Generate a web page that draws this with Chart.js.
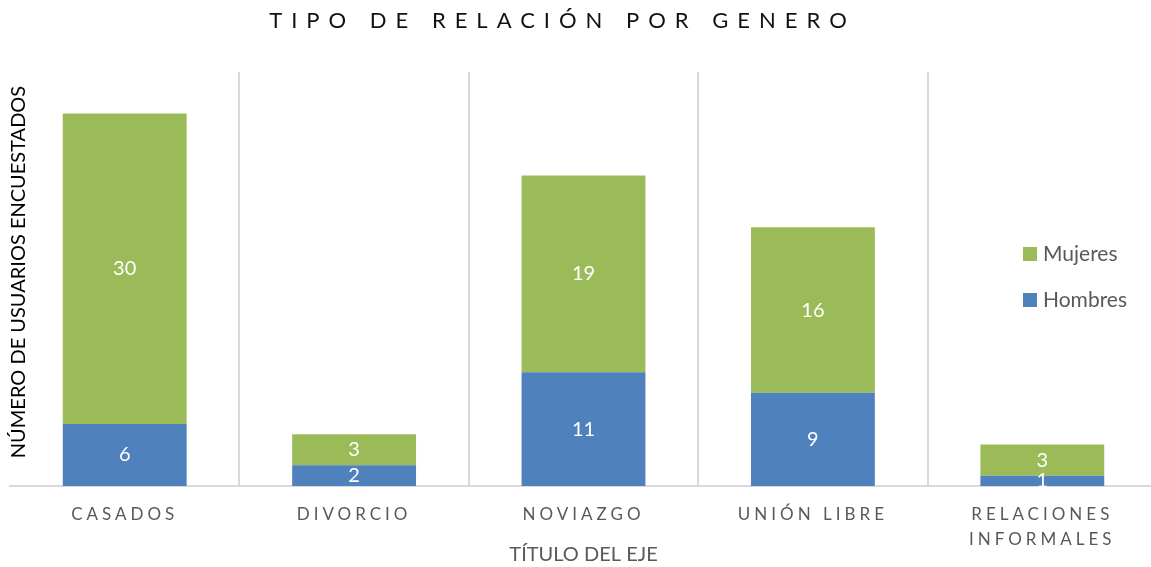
<!DOCTYPE html>
<html>
<head>
<meta charset="utf-8">
<script src="https://cdn.jsdelivr.net/npm/chart.js@4/dist/chart.umd.min.js"></script>
<style>
  html, body { margin: 0; padding: 0; background: #fff; overflow: hidden; }
  #wrap { width: 1160px; height: 567px; }
</style>
</head>
<body>
<div id="wrap"><canvas id="relChart" width="1160" height="567"></canvas></div>
<script>
// data
var categories = ['CASADOS', 'DIVORCIO', 'NOVIAZGO', 'UNIÓN LIBRE', ['RELACIONES', 'INFORMALES']];
var hombres = [6, 2, 11, 9, 1];
var mujeres = [30, 3, 19, 16, 3];
var chartTitle = 'TIPO DE RELACIÓN POR GENERO';
var xTitle = 'TÍTULO DEL EJE';
var yTitle = 'NÚMERO DE USUARIOS ENCUESTADOS';

var FONT = 'Lato, "Open Sans", sans-serif';

// letter spacing for tick labels, off again before bars/labels
var spacingPlugin = {
    id: 'spacing',
    beforeDraw: function(chart) {
        chart.ctx.letterSpacing = '4px';
    },
    beforeDatasetsDraw: function(chart) {
        chart.ctx.letterSpacing = '0px';
    }
};

// white value labels in the middle of each segment
var valueLabels = {
    id: 'valueLabels',
    afterDatasetsDraw: function(chart) {
        var ctx = chart.ctx;
        ctx.save();
        ctx.letterSpacing = '0px';
        ctx.font = '20px ' + FONT;
        ctx.fillStyle = '#ffffff';
        ctx.textAlign = 'center';
        ctx.textBaseline = 'middle';
        chart.data.datasets.forEach(function(ds, i) {
            chart.getDatasetMeta(i).data.forEach(function(bar, j) {
                var p = bar.getCenterPoint();
                ctx.fillText(ds.data[j], p.x, p.y);
            });
        });
        ctx.restore();
    }
};

// titles + legend placed inside the plot like the excel chart
var decorations = {
    id: 'decorations',
    afterDraw: function(chart) {
        var ctx = chart.ctx;
        var area = chart.chartArea;
        ctx.save();

        // main title
        ctx.letterSpacing = '9px';
        ctx.font = '22px ' + FONT;
        ctx.fillStyle = '#111111';
        ctx.textAlign = 'left';
        ctx.textBaseline = 'middle';
        var w = ctx.measureText(chartTitle).width - 9;
        ctx.fillText(chartTitle, 558 - w / 2, 21);

        // x axis title
        ctx.letterSpacing = '0px';
        ctx.font = '20px ' + FONT;
        ctx.fillStyle = '#595959';
        ctx.textAlign = 'center';
        ctx.fillText(xTitle, (area.left + area.right) / 2, 555);

        // y axis title
        ctx.save();
        ctx.translate(19, 272);
        ctx.rotate(-Math.PI / 2);
        ctx.fillStyle = '#000000';
        ctx.font = '20px ' + FONT;
        ctx.fillText(yTitle, 0, 0);
        ctx.restore();

        // legend, top to bottom: Mujeres, Hombres
        ctx.font = '21px ' + FONT;
        ctx.textAlign = 'left';
        var order = [1, 0];
        order.forEach(function(i, k) {
            var ds = chart.data.datasets[i];
            var y = 254 + k * 46;
            ctx.fillStyle = ds.backgroundColor;
            ctx.fillRect(1023, y - 7, 14, 14);
            ctx.fillStyle = '#595959';
            ctx.fillText(ds.label, 1043, y);
        });
        ctx.restore();
    }
};

var ctx = document.getElementById('relChart').getContext('2d');
var myChart = new Chart(ctx, {
    type: 'bar',
    data: {
        labels: categories,
        datasets: [{
            label: 'Hombres',
            data: hombres,
            backgroundColor: '#4f81bd',
            categoryPercentage: 0.54,
            barPercentage: 1
        }, {
            label: 'Mujeres',
            data: mujeres,
            backgroundColor: '#9bbb59',
            categoryPercentage: 0.54,
            barPercentage: 1
        }]
    },
    options: {
        responsive: false,
        animation: false,
        layout: {
            padding: { left: 10, right: 3, top: 72, bottom: 0 }
        },
        plugins: {
            legend: { display: false },
            title: { display: false },
            tooltip: { enabled: false }
        },
        scales: {
            x: {
                stacked: true,
                afterFit: function(scale) {
                    scale.height = 81;
                },
                grid: {
                    offset: true,
                    drawTicks: false,
                    color: function(c) {
                        return c.index === 0 ? 'rgba(0,0,0,0)' : '#d9d9d9';
                    },
                    lineWidth: 2
                },
                border: { color: '#d9d9d9', width: 2 },
                ticks: {
                    padding: 16,
                    color: '#595959',
                    maxRotation: 0,
                    autoSkip: false,
                    font: { family: FONT, size: 17, lineHeight: '25px' }
                }
            },
            y: {
                stacked: true,
                display: false,
                min: 0,
                max: 40
            }
        }
    },
    plugins: [spacingPlugin, valueLabels, decorations]
});
</script>
</body>
</html>
